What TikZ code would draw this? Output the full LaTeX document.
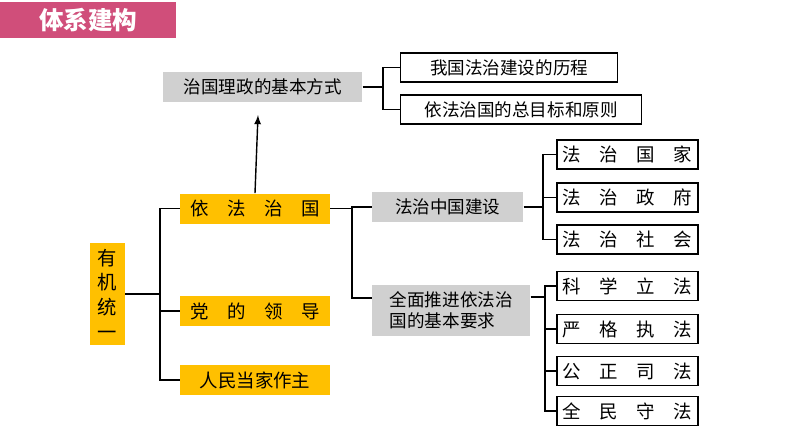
\documentclass[tikz,border=0pt]{standalone}
\usepackage{fontspec}
\setmainfont{Noto Sans CJK SC}
\usetikzlibrary{positioning}
\definecolor{titlepink}{HTML}{D04E7A}
\definecolor{boxgray}{HTML}{D0D0D0}
\definecolor{boxyellow}{HTML}{FFC000}
\tikzset{
  graybox/.style={fill=boxgray,inner sep=2pt,anchor=west,font=\fontsize{10}{12}\selectfont,align=left},
  yellowbox/.style={fill=boxyellow,minimum width=3cm,minimum height=0.6cm,inner sep=2pt,font=\fontsize{10.5}{12}\selectfont},
  linebox/.style={draw=black,thick,minimum height=0.58cm,inner sep=3pt,font=\fontsize{10}{12}\selectfont,anchor=west},
  sidebox/.style={draw=black,thick,minimum width=2.54cm,minimum height=0.58cm,font=\fontsize{10.5}{12}\selectfont},
  link/.style={draw=black,thick}
}
\begin{document}
\begin{tikzpicture}[x=0.02cm,y=-0.02cm]
\useasboundingbox (0,0) rectangle (794,447);

% title
\node [fill=titlepink,minimum width=3.52cm,minimum height=0.72cm,anchor=north west,text=white,font=\fontsize{14}{16}\selectfont\bfseries] (title) at (0,2) {体系建构};

% upper branch
\node [graybox,minimum width=3.98cm,minimum height=0.6cm] (fangshi) at (163,87) {治国理政的基本方式};
\node [linebox,minimum width=4.34cm] (licheng) at (400,67.5) {我国法治建设的历程};
\node [linebox,minimum width=4.82cm] (mubiao) at (400,109.5) {依法治国的总目标和原则};
\draw [link] (fangshi.east) -- (383,87) coordinate (fj);
\draw [link] (licheng.west) -| (fj) |- (mubiao.west);

% root
\node [fill=boxyellow,minimum width=0.7cm,minimum height=2.04cm,align=center,inner sep=1pt,font=\fontsize{11}{14}\selectfont] (youji) at (107.5,294) {有\\机\\统\\一};
\node [yellowbox] (yifa) at (255,208.5) {依\quad 法\quad 治\quad 国};
\node [yellowbox] (dang) at (255,311) {党\quad 的\quad 领\quad 导};
\node [yellowbox] (renmin) at (255,380) {人民当家作主};
\draw [link] (youji.east) -- (160,294) coordinate (rj);
\draw [link] (yifa.west) -| (rj) |- (renmin.west);
\draw [link] (rj) |- (dang.west);
\draw [thick,-latex] (yifa.north) -- (258,115);

% middle branch
\node [graybox,minimum width=3.02cm,minimum height=0.6cm] (jianshe) at (372,207) {法治中国建设};
\node [graybox,minimum width=3.16cm,minimum height=1.02cm] (tuijin) at (372,310.5) {全面推进依法治\\国的基本要求};
\draw [link] (yifa.east) -- (352,208.5) coordinate (mj);
\draw [link] (mj) |- (jianshe.west);
\draw [link] (mj) |- (372,298);

% right boxes
\node [sidebox] (guojia) at (627.5,154.5) {法\quad 治\quad 国\quad 家};
\node [sidebox] (zhengfu) at (627.5,197.5) {法\quad 治\quad 政\quad 府};
\node [sidebox] (shehui) at (627.5,239.5) {法\quad 治\quad 社\quad 会};
\draw [link] (jianshe.east) -- (543,207) coordinate (aj);
\draw [link] (guojia.west) -| (aj) |- (shehui.west);
\draw [link] (aj) |- (zhengfu.west);

\node [sidebox] (lifa) at (627.5,286) {科\quad 学\quad 立\quad 法};
\node [sidebox] (zhifa) at (627.5,329) {严\quad 格\quad 执\quad 法};
\node [sidebox] (sifa) at (627.5,371) {公\quad 正\quad 司\quad 法};
\node [sidebox] (shoufa) at (627.5,411) {全\quad 民\quad 守\quad 法};
\draw [link] (tuijin.east |- 0,297) -- (545,297) coordinate (bj);
\draw [link] (lifa.west) -| (bj) |- (shoufa.west);
\draw [link] (bj |- zhifa.west) -- (zhifa.west);
\draw [link] (bj |- sifa.west) -- (sifa.west);
\end{tikzpicture}
\end{document}
